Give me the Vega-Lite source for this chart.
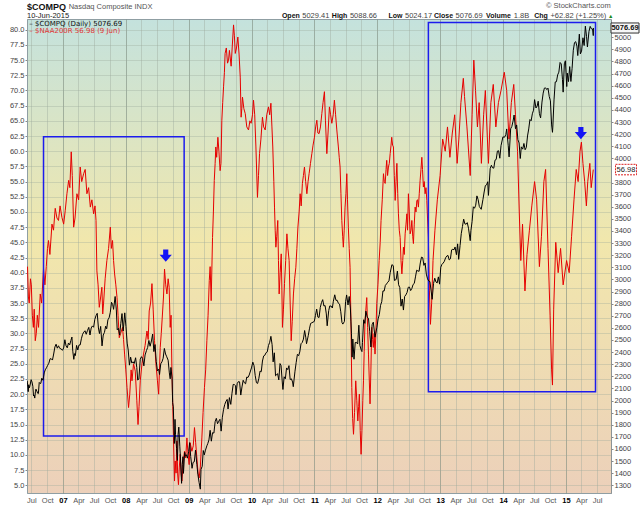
{
"$schema":"https://vega.github.io/schema/vega-lite/v6.json",
"width":584,"height":474,
"autosize":{"type":"none"},
"padding":{"left":27,"top":19,"right":29,"bottom":12},
"background":"white",
"view":{"fill":{"gradient":"linear","x1":0,"y1":0,"x2":0,"y2":1,"stops":[{"offset":0,"color":"#c4e2dd"},{"offset":0.47,"color":"#f1e7ac"},{"offset":1,"color":"#ecd0ba"}]},"stroke":"#8f9ea3"},
"config":{"font":"Liberation Sans","axis":{"labelFont":"Liberation Sans","labelFontSize":7.5,"labelColor":"#444"}},
"datasets":{
"red":[
{"d":"2006-06-09","v":41},{"d":"2006-06-14","v":36},{"d":"2006-06-19","v":35},{"d":"2006-06-26","v":39},{"d":"2006-07-01","v":38},{"d":"2006-07-07","v":33},{"d":"2006-07-13","v":31},{"d":"2006-07-18","v":34},{"d":"2006-07-24","v":28.8},{"d":"2006-07-30","v":30},{"d":"2006-08-05","v":33},{"d":"2006-08-12","v":31},{"d":"2006-08-22","v":36.5},{"d":"2006-08-30","v":35},{"d":"2006-09-10","v":40.7},{"d":"2006-09-18","v":38},{"d":"2006-09-26","v":41},{"d":"2006-10-03","v":44},{"d":"2006-10-09","v":45.3},{"d":"2006-10-17","v":43},{"d":"2006-10-29","v":48},{"d":"2006-11-07","v":47},{"d":"2006-11-17","v":50.6},{"d":"2006-11-27","v":49},{"d":"2006-12-06","v":48.6},{"d":"2006-12-15","v":51},{"d":"2006-12-26","v":49.1},
{"d":"2007-01-05","v":48},{"d":"2007-01-14","v":50.2},{"d":"2007-01-24","v":53},{"d":"2007-02-03","v":55.2},{"d":"2007-02-10","v":54},{"d":"2007-02-18","v":59.9},{"d":"2007-02-24","v":56},{"d":"2007-03-04","v":47.5},{"d":"2007-03-12","v":49},{"d":"2007-03-23","v":53},{"d":"2007-04-02","v":52},{"d":"2007-04-11","v":57.4},{"d":"2007-04-20","v":55},{"d":"2007-05-01","v":56.3},{"d":"2007-05-10","v":57},{"d":"2007-05-20","v":53},{"d":"2007-05-30","v":54},{"d":"2007-06-09","v":50.8},{"d":"2007-06-18","v":52},{"d":"2007-06-28","v":49.7},{"d":"2007-07-06","v":51},{"d":"2007-07-12","v":48.6},{"d":"2007-07-17","v":40.3},{"d":"2007-07-24","v":38},{"d":"2007-07-31","v":34.3},{"d":"2007-08-08","v":36},{"d":"2007-08-15","v":37.6},{"d":"2007-08-20","v":33.2},{"d":"2007-08-25","v":35},{"d":"2007-09-03","v":39},{"d":"2007-09-13","v":42},{"d":"2007-09-23","v":44},{"d":"2007-10-03","v":47.5},{"d":"2007-10-09","v":44},{"d":"2007-10-16","v":45.3},{"d":"2007-10-22","v":42},{"d":"2007-10-28","v":39.8},{"d":"2007-11-04","v":38},{"d":"2007-11-11","v":35.9},{"d":"2007-11-17","v":33},{"d":"2007-11-24","v":29.3},{"d":"2007-12-02","v":30},{"d":"2007-12-13","v":31},{"d":"2007-12-19","v":29},{"d":"2007-12-25","v":26.6},
{"d":"2008-01-01","v":24},{"d":"2008-01-08","v":21.1},{"d":"2008-01-17","v":17.8},{"d":"2008-01-24","v":20},{"d":"2008-02-01","v":24},{"d":"2008-02-06","v":22.2},{"d":"2008-02-15","v":25},{"d":"2008-02-25","v":23.8},{"d":"2008-03-05","v":19},{"d":"2008-03-12","v":15},{"d":"2008-03-18","v":18},{"d":"2008-03-25","v":22.2},{"d":"2008-04-04","v":25},{"d":"2008-04-13","v":26.6},{"d":"2008-04-22","v":28},{"d":"2008-05-03","v":30.4},{"d":"2008-05-10","v":29},{"d":"2008-05-16","v":33.7},{"d":"2008-05-24","v":35},{"d":"2008-06-01","v":38.2},{"d":"2008-06-08","v":34},{"d":"2008-06-16","v":28.8},{"d":"2008-06-24","v":25},{"d":"2008-07-03","v":22.2},{"d":"2008-07-10","v":20},{"d":"2008-07-19","v":27.7},{"d":"2008-07-25","v":30},{"d":"2008-08-01","v":33.2},{"d":"2008-08-07","v":36},{"d":"2008-08-13","v":40.6},{"d":"2008-08-20","v":38},{"d":"2008-08-27","v":36.5},{"d":"2008-09-03","v":39},{"d":"2008-09-09","v":37.6},{"d":"2008-09-15","v":31},{"d":"2008-09-20","v":33},{"d":"2008-09-25","v":23.8},{"d":"2008-09-30","v":18},{"d":"2008-10-04","v":12.8},{"d":"2008-10-10","v":5.7},{"d":"2008-10-14","v":9},{"d":"2008-10-19","v":7},{"d":"2008-10-24","v":12.3},{"d":"2008-10-28","v":7},{"d":"2008-11-02","v":5.1},{"d":"2008-11-07","v":8},{"d":"2008-11-12","v":10.1},{"d":"2008-11-17","v":7},{"d":"2008-11-22","v":5.7},{"d":"2008-11-30","v":9},{"d":"2008-12-07","v":10.6},{"d":"2008-12-14","v":9.5},{"d":"2008-12-21","v":12.8},{"d":"2008-12-28","v":10},
{"d":"2009-01-03","v":8.4},{"d":"2009-01-09","v":12},{"d":"2009-01-19","v":10.6},{"d":"2009-01-27","v":11.5},{"d":"2009-02-03","v":14.5},{"d":"2009-02-10","v":12},{"d":"2009-02-17","v":9.5},{"d":"2009-02-24","v":7},{"d":"2009-03-02","v":6.2},{"d":"2009-03-09","v":8},{"d":"2009-03-18","v":12.8},{"d":"2009-03-25","v":17},{"d":"2009-04-02","v":21.1},{"d":"2009-04-09","v":24},{"d":"2009-04-16","v":28.8},{"d":"2009-04-23","v":33},{"d":"2009-04-30","v":38.7},{"d":"2009-05-05","v":41},{"d":"2009-05-11","v":35.4},{"d":"2009-05-19","v":45.8},{"d":"2009-05-24","v":50},{"d":"2009-05-29","v":55.2},{"d":"2009-06-03","v":58},{"d":"2009-06-07","v":60.7},{"d":"2009-06-12","v":59},{"d":"2009-06-19","v":62.3},{"d":"2009-06-25","v":60},{"d":"2009-07-02","v":56.8},{"d":"2009-07-07","v":58},{"d":"2009-07-12","v":65.1},{"d":"2009-07-17","v":68},{"d":"2009-07-22","v":70.6},{"d":"2009-07-27","v":73},{"d":"2009-07-31","v":76.1},{"d":"2009-08-07","v":77},{"d":"2009-08-14","v":74.5},{"d":"2009-08-20","v":75},{"d":"2009-08-25","v":76.6},{"d":"2009-09-04","v":74},{"d":"2009-09-10","v":77},{"d":"2009-09-18","v":80.8},{"d":"2009-09-23","v":79},{"d":"2009-09-28","v":76.1},{"d":"2009-10-05","v":77},{"d":"2009-10-13","v":78.8},{"d":"2009-10-20","v":76},{"d":"2009-10-27","v":72.2},{"d":"2009-11-01","v":65.6},{"d":"2009-11-05","v":67},{"d":"2009-11-09","v":68.9},{"d":"2009-11-17","v":67},{"d":"2009-11-25","v":66.2},{"d":"2009-12-04","v":64},{"d":"2009-12-14","v":63.5},{"d":"2009-12-22","v":65},{"d":"2009-12-29","v":64.6},
{"d":"2010-01-06","v":66},{"d":"2010-01-12","v":68.4},{"d":"2010-01-19","v":66},{"d":"2010-01-26","v":60.7},{"d":"2010-02-04","v":52.4},{"d":"2010-02-10","v":56},{"d":"2010-02-16","v":59.6},{"d":"2010-02-24","v":62},{"d":"2010-03-05","v":65.6},{"d":"2010-03-12","v":64},{"d":"2010-03-21","v":63.5},{"d":"2010-03-30","v":66},{"d":"2010-04-09","v":67.3},{"d":"2010-04-16","v":66},{"d":"2010-04-23","v":67.9},{"d":"2010-04-29","v":64},{"d":"2010-05-04","v":60.7},{"d":"2010-05-10","v":55},{"d":"2010-05-14","v":50.8},{"d":"2010-05-18","v":47},{"d":"2010-05-22","v":44.2},{"d":"2010-05-27","v":46},{"d":"2010-06-02","v":48.6},{"d":"2010-06-06","v":42},{"d":"2010-06-10","v":36.5},{"d":"2010-06-16","v":40},{"d":"2010-06-22","v":43.1},{"d":"2010-06-26","v":37},{"d":"2010-06-29","v":31},{"d":"2010-07-05","v":34},{"d":"2010-07-11","v":38.2},{"d":"2010-07-18","v":42},{"d":"2010-07-25","v":46.4},{"d":"2010-07-31","v":44},{"d":"2010-08-07","v":42},{"d":"2010-08-13","v":35},{"d":"2010-08-19","v":28.8},{"d":"2010-08-25","v":32},{"d":"2010-09-01","v":36.5},{"d":"2010-09-08","v":39},{"d":"2010-09-15","v":40.9},{"d":"2010-09-21","v":44},{"d":"2010-09-27","v":47.5},{"d":"2010-10-04","v":50},{"d":"2010-10-10","v":53},{"d":"2010-10-16","v":51},{"d":"2010-10-23","v":54.7},{"d":"2010-10-29","v":56},{"d":"2010-11-04","v":57.4},{"d":"2010-11-11","v":55},{"d":"2010-11-18","v":53},{"d":"2010-11-25","v":55},{"d":"2010-12-01","v":56.3},{"d":"2010-12-09","v":58},{"d":"2010-12-17","v":59.6},{"d":"2010-12-24","v":61},
{"d":"2011-01-01","v":62.3},{"d":"2011-01-08","v":64},{"d":"2011-01-15","v":65.1},{"d":"2011-01-21","v":63},{"d":"2011-01-28","v":62.9},{"d":"2011-02-05","v":64},{"d":"2011-02-13","v":66.2},{"d":"2011-02-20","v":68},{"d":"2011-02-28","v":69.8},{"d":"2011-03-06","v":65},{"d":"2011-03-14","v":59.6},{"d":"2011-03-21","v":63},{"d":"2011-03-29","v":67.3},{"d":"2011-04-05","v":66},{"d":"2011-04-12","v":64.6},{"d":"2011-04-20","v":66},{"d":"2011-04-27","v":68.4},{"d":"2011-05-04","v":66},{"d":"2011-05-11","v":63.5},{"d":"2011-05-20","v":60.7},{"d":"2011-05-25","v":59},{"d":"2011-05-30","v":57.4},{"d":"2011-06-04","v":53},{"d":"2011-06-09","v":48.6},{"d":"2011-06-14","v":46},{"d":"2011-06-18","v":44.2},{"d":"2011-06-23","v":47},{"d":"2011-06-28","v":50.8},{"d":"2011-07-03","v":53},{"d":"2011-07-08","v":56.3},{"d":"2011-07-12","v":52},{"d":"2011-07-17","v":47.5},{"d":"2011-07-22","v":44},{"d":"2011-07-27","v":40.9},{"d":"2011-08-01","v":32},{"d":"2011-08-06","v":21.1},{"d":"2011-08-11","v":16},{"d":"2011-08-16","v":13.4},{"d":"2011-08-22","v":17},{"d":"2011-08-29","v":22.2},{"d":"2011-09-04","v":19},{"d":"2011-09-10","v":15.6},{"d":"2011-09-15","v":18},{"d":"2011-09-19","v":20},{"d":"2011-09-24","v":14},{"d":"2011-09-29","v":10.1},{"d":"2011-10-04","v":14},{"d":"2011-10-09","v":19},{"d":"2011-10-13","v":22.2},{"d":"2011-10-17","v":27},{"d":"2011-10-22","v":32.1},{"d":"2011-11-01","v":35.9},{"d":"2011-11-06","v":31},{"d":"2011-11-11","v":26.6},{"d":"2011-11-16","v":22},{"d":"2011-11-20","v":18.4},{"d":"2011-11-25","v":24},{"d":"2011-11-30","v":31},{"d":"2011-12-05","v":29},{"d":"2011-12-09","v":27.7},{"d":"2011-12-14","v":30},{"d":"2011-12-19","v":26.6},{"d":"2011-12-24","v":30},{"d":"2011-12-29","v":34.9},
{"d":"2012-01-05","v":38},{"d":"2012-01-12","v":42},{"d":"2012-01-18","v":45},{"d":"2012-01-23","v":48.6},{"d":"2012-01-30","v":52},{"d":"2012-02-06","v":56.3},{"d":"2012-02-11","v":55},{"d":"2012-02-16","v":54.7},{"d":"2012-02-21","v":57},{"d":"2012-02-25","v":58.5},{"d":"2012-03-01","v":56},{"d":"2012-03-06","v":57.4},{"d":"2012-03-11","v":58},{"d":"2012-03-16","v":59.6},{"d":"2012-03-21","v":61},{"d":"2012-03-25","v":62.3},{"d":"2012-03-30","v":61},{"d":"2012-04-04","v":60.7},{"d":"2012-04-09","v":56},{"d":"2012-04-14","v":51.9},{"d":"2012-04-19","v":55},{"d":"2012-04-24","v":58},{"d":"2012-04-29","v":53},{"d":"2012-05-03","v":49.7},{"d":"2012-05-08","v":47},{"d":"2012-05-13","v":45.8},{"d":"2012-05-18","v":42},{"d":"2012-05-23","v":39.8},{"d":"2012-05-28","v":42},{"d":"2012-06-01","v":44.2},{"d":"2012-06-06","v":43},{"d":"2012-06-11","v":46.4},{"d":"2012-06-16","v":48},{"d":"2012-06-21","v":49.7},{"d":"2012-06-25","v":47},{"d":"2012-06-30","v":53},{"d":"2012-07-05","v":50},{"d":"2012-07-10","v":46.4},{"d":"2012-07-15","v":47},{"d":"2012-07-20","v":48.6},{"d":"2012-07-25","v":46},{"d":"2012-07-29","v":44.8},{"d":"2012-08-03","v":48},{"d":"2012-08-08","v":50.8},{"d":"2012-08-13","v":50},{"d":"2012-08-18","v":51.9},{"d":"2012-08-22","v":52},{"d":"2012-08-27","v":50.8},{"d":"2012-09-01","v":53},{"d":"2012-09-06","v":55.2},{"d":"2012-09-11","v":57},{"d":"2012-09-16","v":59},{"d":"2012-09-20","v":57},{"d":"2012-09-25","v":54.1},{"d":"2012-09-30","v":55},{"d":"2012-10-05","v":53},{"d":"2012-10-10","v":54},{"d":"2012-10-15","v":51.9},{"d":"2012-10-19","v":49},{"d":"2012-10-24","v":45.8},{"d":"2012-10-30","v":37},{"d":"2012-11-05","v":31.5},{"d":"2012-11-12","v":35},{"d":"2012-11-20","v":42},{"d":"2012-12-01","v":47},{"d":"2012-12-15","v":52},{"d":"2012-12-31","v":56},
{"d":"2013-01-15","v":62},{"d":"2013-01-30","v":60},{"d":"2013-02-12","v":64},{"d":"2013-02-26","v":59},{"d":"2013-03-12","v":63},{"d":"2013-03-26","v":66},{"d":"2013-04-09","v":58},{"d":"2013-04-19","v":62},{"d":"2013-05-01","v":68},{"d":"2013-05-15","v":72},{"d":"2013-05-22","v":69},{"d":"2013-06-05","v":64},{"d":"2013-06-24","v":56},{"d":"2013-07-05","v":66},{"d":"2013-07-15","v":75},{"d":"2013-07-25","v":70},{"d":"2013-08-05","v":64},{"d":"2013-08-15","v":68},{"d":"2013-08-28","v":58},{"d":"2013-09-10","v":66},{"d":"2013-09-20","v":70},{"d":"2013-10-08","v":58},{"d":"2013-10-22","v":68},{"d":"2013-11-05","v":71},{"d":"2013-11-20","v":64},{"d":"2013-12-05","v":68},{"d":"2013-12-20","v":70},
{"d":"2014-01-08","v":73},{"d":"2014-01-22","v":70},{"d":"2014-02-04","v":62},{"d":"2014-02-18","v":68},{"d":"2014-03-04","v":71},{"d":"2014-03-14","v":66},{"d":"2014-03-26","v":60},{"d":"2014-04-05","v":50},{"d":"2014-04-14","v":42},{"d":"2014-04-24","v":48},{"d":"2014-05-08","v":37},{"d":"2014-05-20","v":43},{"d":"2014-06-03","v":47},{"d":"2014-06-17","v":51},{"d":"2014-07-03","v":55},{"d":"2014-07-15","v":52},{"d":"2014-07-31","v":41},{"d":"2014-08-12","v":46},{"d":"2014-08-26","v":55},{"d":"2014-09-05","v":57},{"d":"2014-09-19","v":44},{"d":"2014-10-01","v":33},{"d":"2014-10-10","v":24},{"d":"2014-10-15","v":21.5},{"d":"2014-10-22","v":34},{"d":"2014-11-03","v":45},{"d":"2014-11-17","v":40},{"d":"2014-12-01","v":44},{"d":"2014-12-16","v":38},
{"d":"2015-01-05","v":42},{"d":"2015-01-20","v":40},{"d":"2015-02-03","v":46},{"d":"2015-02-17","v":52},{"d":"2015-03-02","v":57},{"d":"2015-03-13","v":55},{"d":"2015-03-24","v":60},{"d":"2015-04-01","v":61.5},{"d":"2015-04-10","v":58},{"d":"2015-04-20","v":55},{"d":"2015-04-30","v":51},{"d":"2015-05-08","v":55},{"d":"2015-05-20","v":58},{"d":"2015-05-28","v":54},{"d":"2015-06-09","v":56.98}
],
"black":[
{"d":"2006-06-07","n":2162},{"d":"2006-06-09","n":2135},{"d":"2006-06-13","n":2073},{"d":"2006-06-16","n":2130},{"d":"2006-06-20","n":2105},{"d":"2006-06-23","n":2121},{"d":"2006-06-30","n":2172},{"d":"2006-07-05","n":2153},{"d":"2006-07-10","n":2117},{"d":"2006-07-14","n":2037},{"d":"2006-07-18","n":2044},{"d":"2006-07-21","n":2020},{"d":"2006-07-25","n":2072},{"d":"2006-07-28","n":2094},{"d":"2006-08-02","n":2078},{"d":"2006-08-07","n":2060},{"d":"2006-08-11","n":2057},{"d":"2006-08-16","n":2149},{"d":"2006-08-21","n":2141},{"d":"2006-08-25","n":2141},{"d":"2006-08-31","n":2184},{"d":"2006-09-07","n":2167},{"d":"2006-09-14","n":2228},{"d":"2006-09-20","n":2253},{"d":"2006-09-27","n":2270},{"d":"2006-10-04","n":2290},{"d":"2006-10-11","n":2308},{"d":"2006-10-18","n":2345},{"d":"2006-10-25","n":2344},{"d":"2006-11-01","n":2334},{"d":"2006-11-08","n":2384},{"d":"2006-11-15","n":2442},{"d":"2006-11-22","n":2465},{"d":"2006-11-29","n":2432},{"d":"2006-12-06","n":2452},{"d":"2006-12-13","n":2431},{"d":"2006-12-20","n":2427},{"d":"2006-12-29","n":2415},
{"d":"2007-01-05","n":2434},{"d":"2007-01-12","n":2502},{"d":"2007-01-19","n":2451},{"d":"2007-01-26","n":2435},{"d":"2007-02-02","n":2475},{"d":"2007-02-09","n":2459},{"d":"2007-02-16","n":2496},{"d":"2007-02-22","n":2524},{"d":"2007-02-27","n":2407},{"d":"2007-03-05","n":2340},{"d":"2007-03-09","n":2387},{"d":"2007-03-14","n":2371},{"d":"2007-03-21","n":2455},{"d":"2007-03-28","n":2417},{"d":"2007-04-04","n":2458},{"d":"2007-04-11","n":2459},{"d":"2007-04-18","n":2510},{"d":"2007-04-25","n":2547},{"d":"2007-05-02","n":2565},{"d":"2007-05-09","n":2576},{"d":"2007-05-16","n":2547},{"d":"2007-05-23","n":2577},{"d":"2007-05-31","n":2604},{"d":"2007-06-07","n":2541},{"d":"2007-06-14","n":2599},{"d":"2007-06-21","n":2616},{"d":"2007-06-28","n":2605},{"d":"2007-07-05","n":2670},{"d":"2007-07-12","n":2701},{"d":"2007-07-19","n":2720},{"d":"2007-07-26","n":2599},{"d":"2007-08-01","n":2553},{"d":"2007-08-08","n":2612},{"d":"2007-08-16","n":2451},{"d":"2007-08-23","n":2541},{"d":"2007-08-30","n":2563},{"d":"2007-09-06","n":2614},{"d":"2007-09-12","n":2592},{"d":"2007-09-19","n":2666},{"d":"2007-09-26","n":2683},{"d":"2007-10-03","n":2729},{"d":"2007-10-10","n":2811},{"d":"2007-10-17","n":2792},{"d":"2007-10-22","n":2753},{"d":"2007-10-31","n":2859},{"d":"2007-11-07","n":2748},{"d":"2007-11-12","n":2584},{"d":"2007-11-19","n":2596},{"d":"2007-11-26","n":2540},{"d":"2007-12-03","n":2637},{"d":"2007-12-10","n":2718},{"d":"2007-12-17","n":2574},{"d":"2007-12-26","n":2724},
{"d":"2008-01-02","n":2610},{"d":"2008-01-09","n":2474},{"d":"2008-01-15","n":2417},{"d":"2008-01-22","n":2292},{"d":"2008-01-29","n":2358},{"d":"2008-02-05","n":2309},{"d":"2008-02-12","n":2320},{"d":"2008-02-19","n":2306},{"d":"2008-02-27","n":2353},{"d":"2008-03-05","n":2272},{"d":"2008-03-10","n":2169},{"d":"2008-03-17","n":2177},{"d":"2008-03-25","n":2341},{"d":"2008-04-01","n":2362},{"d":"2008-04-08","n":2347},{"d":"2008-04-15","n":2286},{"d":"2008-04-22","n":2376},{"d":"2008-04-30","n":2412},{"d":"2008-05-07","n":2438},{"d":"2008-05-14","n":2496},{"d":"2008-05-21","n":2448},{"d":"2008-05-29","n":2492},{"d":"2008-06-05","n":2549},{"d":"2008-06-12","n":2404},{"d":"2008-06-19","n":2462},{"d":"2008-06-26","n":2321},{"d":"2008-07-03","n":2245},{"d":"2008-07-10","n":2258},{"d":"2008-07-15","n":2215},{"d":"2008-07-22","n":2303},{"d":"2008-07-29","n":2319},{"d":"2008-08-05","n":2349},{"d":"2008-08-12","n":2430},{"d":"2008-08-19","n":2384},{"d":"2008-08-26","n":2361},{"d":"2008-09-03","n":2333},{"d":"2008-09-10","n":2228},{"d":"2008-09-15","n":2179},{"d":"2008-09-19","n":2273},{"d":"2008-09-26","n":2183},{"d":"2008-09-29","n":1983},{"d":"2008-10-03","n":1947},{"d":"2008-10-09","n":1645},{"d":"2008-10-13","n":1844},{"d":"2008-10-16","n":1717},{"d":"2008-10-22","n":1604},{"d":"2008-10-27","n":1505},{"d":"2008-10-31","n":1721},{"d":"2008-11-04","n":1780},{"d":"2008-11-10","n":1617},{"d":"2008-11-14","n":1517},{"d":"2008-11-20","n":1316},{"d":"2008-11-24","n":1472},{"d":"2008-11-28","n":1536},{"d":"2008-12-01","n":1398},{"d":"2008-12-08","n":1572},{"d":"2008-12-12","n":1540},{"d":"2008-12-18","n":1552},{"d":"2008-12-24","n":1524},{"d":"2008-12-31","n":1577},
{"d":"2009-01-06","n":1652},{"d":"2009-01-12","n":1538},{"d":"2009-01-20","n":1440},{"d":"2009-01-26","n":1489},{"d":"2009-02-02","n":1494},{"d":"2009-02-09","n":1591},{"d":"2009-02-17","n":1470},{"d":"2009-02-23","n":1387},{"d":"2009-03-02","n":1322},{"d":"2009-03-09","n":1268},{"d":"2009-03-13","n":1431},{"d":"2009-03-20","n":1457},{"d":"2009-03-26","n":1587},{"d":"2009-04-01","n":1551},{"d":"2009-04-08","n":1590},{"d":"2009-04-16","n":1626},{"d":"2009-04-21","n":1643},{"d":"2009-04-28","n":1674},{"d":"2009-05-05","n":1754},{"d":"2009-05-12","n":1664},{"d":"2009-05-19","n":1734},{"d":"2009-05-27","n":1731},{"d":"2009-06-03","n":1825},{"d":"2009-06-10","n":1853},{"d":"2009-06-17","n":1808},{"d":"2009-06-24","n":1829},{"d":"2009-07-01","n":1845},{"d":"2009-07-08","n":1747},{"d":"2009-07-15","n":1862},{"d":"2009-07-22","n":1926},{"d":"2009-07-29","n":1967},{"d":"2009-08-05","n":1993},{"d":"2009-08-12","n":2009},{"d":"2009-08-17","n":1930},{"d":"2009-08-25","n":2024},{"d":"2009-09-02","n":1968},{"d":"2009-09-09","n":2060},{"d":"2009-09-16","n":2133},{"d":"2009-09-23","n":2131},{"d":"2009-09-30","n":2122},{"d":"2009-10-02","n":2048},{"d":"2009-10-09","n":2139},{"d":"2009-10-16","n":2156},{"d":"2009-10-23","n":2154},{"d":"2009-10-30","n":2045},{"d":"2009-11-06","n":2112},{"d":"2009-11-13","n":2167},{"d":"2009-11-20","n":2146},{"d":"2009-11-27","n":2138},{"d":"2009-12-04","n":2194},{"d":"2009-12-11","n":2190},{"d":"2009-12-18","n":2211},{"d":"2009-12-31","n":2269},
{"d":"2010-01-08","n":2317},{"d":"2010-01-15","n":2288},{"d":"2010-01-22","n":2205},{"d":"2010-01-29","n":2147},{"d":"2010-02-05","n":2141},{"d":"2010-02-12","n":2183},{"d":"2010-02-19","n":2243},{"d":"2010-02-26","n":2238},{"d":"2010-03-05","n":2326},{"d":"2010-03-12","n":2368},{"d":"2010-03-19","n":2374},{"d":"2010-03-26","n":2395},{"d":"2010-04-02","n":2402},{"d":"2010-04-09","n":2454},{"d":"2010-04-16","n":2481},{"d":"2010-04-23","n":2530},{"d":"2010-04-30","n":2461},{"d":"2010-05-06","n":2319},{"d":"2010-05-13","n":2394},{"d":"2010-05-20","n":2204},{"d":"2010-05-25","n":2210},{"d":"2010-06-01","n":2222},{"d":"2010-06-08","n":2170},{"d":"2010-06-15","n":2305},{"d":"2010-06-21","n":2289},{"d":"2010-06-29","n":2136},{"d":"2010-07-02","n":2091},{"d":"2010-07-09","n":2196},{"d":"2010-07-16","n":2179},{"d":"2010-07-23","n":2269},{"d":"2010-07-30","n":2255},{"d":"2010-08-06","n":2288},{"d":"2010-08-13","n":2173},{"d":"2010-08-20","n":2179},{"d":"2010-08-27","n":2153},{"d":"2010-08-31","n":2114},{"d":"2010-09-10","n":2242},{"d":"2010-09-17","n":2315},{"d":"2010-09-24","n":2381},{"d":"2010-10-01","n":2370},{"d":"2010-10-08","n":2402},{"d":"2010-10-15","n":2469},{"d":"2010-10-22","n":2479},{"d":"2010-10-29","n":2507},{"d":"2010-11-05","n":2578},{"d":"2010-11-12","n":2518},{"d":"2010-11-16","n":2469},{"d":"2010-11-26","n":2535},{"d":"2010-12-03","n":2592},{"d":"2010-12-10","n":2637},{"d":"2010-12-17","n":2642},{"d":"2010-12-31","n":2653},
{"d":"2011-01-07","n":2703},{"d":"2011-01-14","n":2755},{"d":"2011-01-21","n":2689},{"d":"2011-01-28","n":2686},{"d":"2011-02-04","n":2769},{"d":"2011-02-11","n":2809},{"d":"2011-02-18","n":2833},{"d":"2011-02-25","n":2781},{"d":"2011-03-04","n":2784},{"d":"2011-03-11","n":2715},{"d":"2011-03-16","n":2617},{"d":"2011-03-25","n":2743},{"d":"2011-03-31","n":2781},{"d":"2011-04-08","n":2780},{"d":"2011-04-15","n":2764},{"d":"2011-04-21","n":2820},{"d":"2011-04-29","n":2873},{"d":"2011-05-06","n":2827},{"d":"2011-05-13","n":2828},{"d":"2011-05-20","n":2803},{"d":"2011-05-27","n":2796},{"d":"2011-06-03","n":2733},{"d":"2011-06-10","n":2644},{"d":"2011-06-15","n":2631},{"d":"2011-06-24","n":2652},{"d":"2011-07-01","n":2816},{"d":"2011-07-07","n":2872},{"d":"2011-07-15","n":2789},{"d":"2011-07-22","n":2859},{"d":"2011-07-29","n":2756},{"d":"2011-08-04","n":2556},{"d":"2011-08-08","n":2358},{"d":"2011-08-12","n":2508},{"d":"2011-08-19","n":2341},{"d":"2011-08-26","n":2479},{"d":"2011-09-02","n":2480},{"d":"2011-09-09","n":2467},{"d":"2011-09-16","n":2622},{"d":"2011-09-22","n":2455},{"d":"2011-09-30","n":2415},{"d":"2011-10-04","n":2404},{"d":"2011-10-07","n":2479},{"d":"2011-10-14","n":2667},{"d":"2011-10-21","n":2637},{"d":"2011-10-27","n":2738},{"d":"2011-11-04","n":2686},{"d":"2011-11-11","n":2679},{"d":"2011-11-18","n":2572},{"d":"2011-11-25","n":2442},{"d":"2011-12-02","n":2626},{"d":"2011-12-09","n":2647},{"d":"2011-12-19","n":2523},{"d":"2011-12-30","n":2605},
{"d":"2012-01-06","n":2674},{"d":"2012-01-13","n":2710},{"d":"2012-01-20","n":2786},{"d":"2012-01-27","n":2816},{"d":"2012-02-03","n":2905},{"d":"2012-02-10","n":2904},{"d":"2012-02-17","n":2951},{"d":"2012-02-24","n":2963},{"d":"2012-03-02","n":2977},{"d":"2012-03-09","n":2988},{"d":"2012-03-16","n":3055},{"d":"2012-03-26","n":3122},{"d":"2012-04-03","n":3114},{"d":"2012-04-10","n":2991},{"d":"2012-04-20","n":3000},{"d":"2012-04-27","n":3069},{"d":"2012-05-04","n":2956},{"d":"2012-05-11","n":2933},{"d":"2012-05-18","n":2779},{"d":"2012-05-25","n":2838},{"d":"2012-06-01","n":2747},{"d":"2012-06-08","n":2859},{"d":"2012-06-15","n":2872},{"d":"2012-06-22","n":2892},{"d":"2012-06-29","n":2935},{"d":"2012-07-06","n":2937},{"d":"2012-07-13","n":2908},{"d":"2012-07-20","n":2925},{"d":"2012-07-27","n":2958},{"d":"2012-08-03","n":2967},{"d":"2012-08-10","n":3021},{"d":"2012-08-17","n":3076},{"d":"2012-08-24","n":3070},{"d":"2012-08-31","n":3067},{"d":"2012-09-07","n":3136},{"d":"2012-09-14","n":3184},{"d":"2012-09-21","n":3180},{"d":"2012-09-28","n":3116},{"d":"2012-10-05","n":3136},{"d":"2012-10-12","n":3044},{"d":"2012-10-19","n":3005},{"d":"2012-10-26","n":2987},{"d":"2012-11-02","n":2982},{"d":"2012-11-09","n":2904},{"d":"2012-11-15","n":2836},{"d":"2012-11-23","n":2967},{"d":"2012-11-30","n":3010},{"d":"2012-12-07","n":2979},{"d":"2012-12-14","n":2971},{"d":"2012-12-21","n":3021},{"d":"2012-12-28","n":2961},
{"d":"2013-01-04","n":3101},{"d":"2013-01-11","n":3125},{"d":"2013-01-18","n":3135},{"d":"2013-01-25","n":3150},{"d":"2013-02-01","n":3179},{"d":"2013-02-08","n":3193},{"d":"2013-02-15","n":3198},{"d":"2013-02-22","n":3161},{"d":"2013-03-01","n":3170},{"d":"2013-03-08","n":3244},{"d":"2013-03-15","n":3249},{"d":"2013-03-22","n":3245},{"d":"2013-03-28","n":3268},{"d":"2013-04-05","n":3204},{"d":"2013-04-12","n":3294},{"d":"2013-04-18","n":3166},{"d":"2013-04-26","n":3279},{"d":"2013-05-03","n":3378},{"d":"2013-05-10","n":3437},{"d":"2013-05-17","n":3498},{"d":"2013-05-24","n":3459},{"d":"2013-05-31","n":3456},{"d":"2013-06-07","n":3469},{"d":"2013-06-14","n":3423},{"d":"2013-06-24","n":3320},{"d":"2013-06-28","n":3403},{"d":"2013-07-05","n":3479},{"d":"2013-07-12","n":3600},{"d":"2013-07-19","n":3588},{"d":"2013-07-26","n":3613},{"d":"2013-08-02","n":3690},{"d":"2013-08-09","n":3660},{"d":"2013-08-16","n":3602},{"d":"2013-08-27","n":3579},{"d":"2013-09-06","n":3660},{"d":"2013-09-13","n":3722},{"d":"2013-09-20","n":3775},{"d":"2013-09-27","n":3781},{"d":"2013-10-04","n":3807},{"d":"2013-10-08","n":3694},{"d":"2013-10-18","n":3915},{"d":"2013-10-25","n":3943},{"d":"2013-11-01","n":3922},{"d":"2013-11-08","n":3919},{"d":"2013-11-15","n":3985},{"d":"2013-11-22","n":3991},{"d":"2013-11-29","n":4060},{"d":"2013-12-06","n":4063},{"d":"2013-12-13","n":4001},{"d":"2013-12-20","n":4105},{"d":"2013-12-31","n":4177},
{"d":"2014-01-10","n":4175},{"d":"2014-01-17","n":4197},{"d":"2014-01-22","n":4243},{"d":"2014-01-31","n":4104},{"d":"2014-02-05","n":4012},{"d":"2014-02-14","n":4244},{"d":"2014-02-21","n":4264},{"d":"2014-02-28","n":4308},{"d":"2014-03-06","n":4358},{"d":"2014-03-14","n":4245},{"d":"2014-03-21","n":4276},{"d":"2014-03-28","n":4155},{"d":"2014-04-04","n":4127},{"d":"2014-04-11","n":3999},{"d":"2014-04-17","n":4095},{"d":"2014-04-25","n":4076},{"d":"2014-05-02","n":4123},{"d":"2014-05-09","n":4071},{"d":"2014-05-16","n":4090},{"d":"2014-05-23","n":4185},{"d":"2014-05-30","n":4243},{"d":"2014-06-06","n":4321},{"d":"2014-06-13","n":4310},{"d":"2014-06-20","n":4368},{"d":"2014-06-27","n":4398},{"d":"2014-07-03","n":4485},{"d":"2014-07-11","n":4416},{"d":"2014-07-18","n":4432},{"d":"2014-07-24","n":4472},{"d":"2014-07-31","n":4370},{"d":"2014-08-07","n":4334},{"d":"2014-08-15","n":4465},{"d":"2014-08-22","n":4539},{"d":"2014-08-29","n":4580},{"d":"2014-09-05","n":4582},{"d":"2014-09-12","n":4568},{"d":"2014-09-19","n":4580},{"d":"2014-09-26","n":4512},{"d":"2014-10-03","n":4475},{"d":"2014-10-10","n":4276},{"d":"2014-10-15","n":4215},{"d":"2014-10-17","n":4258},{"d":"2014-10-24","n":4483},{"d":"2014-10-31","n":4631},{"d":"2014-11-07","n":4633},{"d":"2014-11-14","n":4689},{"d":"2014-11-21","n":4712},{"d":"2014-11-28","n":4792},{"d":"2014-12-05","n":4780},{"d":"2014-12-12","n":4653},{"d":"2014-12-16","n":4547},{"d":"2014-12-23","n":4781},{"d":"2014-12-29","n":4806},
{"d":"2015-01-06","n":4593},{"d":"2015-01-09","n":4704},{"d":"2015-01-16","n":4634},{"d":"2015-01-23","n":4758},{"d":"2015-01-30","n":4635},{"d":"2015-02-06","n":4744},{"d":"2015-02-13","n":4893},{"d":"2015-02-20","n":4956},{"d":"2015-02-27","n":4964},{"d":"2015-03-06","n":4927},{"d":"2015-03-11","n":4849},{"d":"2015-03-20","n":5026},{"d":"2015-03-26","n":4863},{"d":"2015-04-02","n":4886},{"d":"2015-04-10","n":4996},{"d":"2015-04-17","n":4932},{"d":"2015-04-24","n":5092},{"d":"2015-05-01","n":5005},{"d":"2015-05-06","n":4920},{"d":"2015-05-15","n":5048},{"d":"2015-05-22","n":5090},{"d":"2015-05-29","n":5070},{"d":"2015-06-05","n":5068},{"d":"2015-06-09","n":5014},{"d":"2015-06-10","n":5076.69}
],
"boxes":[{"d":"2006-09-10","d2":"2008-12-05","v":62.4,"v2":13.1},{"d":"2012-10-24","d2":"2015-06-22","v":81.2,"v2":20.4}],
"arrows":[{"d":"2008-08-20","v":42.8},{"d":"2015-03-29","v":63.0}],
"notes":[
{"k":"title","d":"2006-06-06","v":83.8,"t":"$COMPQ"},
{"k":"sub","d":"2007-02-03","v":83.7,"t":"Nasdaq Composite  INDX"},
{"k":"date","d":"2006-06-06","v":82.3,"t":"10-Jun-2015"},
{"k":"lab","d":"2010-06-26","v":82.3,"t":"Open"},
{"k":"val","d":"2010-10-22","v":82.3,"t":"5029.41"},
{"k":"lab","d":"2011-04-12","v":82.3,"t":"High"},
{"k":"val","d":"2011-07-26","v":82.3,"t":"5088.66"},
{"k":"lab","d":"2012-03-06","v":82.3,"t":"Low"},
{"k":"val","d":"2012-06-10","v":82.3,"t":"5024.17"},
{"k":"lab","d":"2012-11-26","v":82.3,"t":"Close"},
{"k":"val","d":"2013-03-31","v":82.3,"t":"5076.69"},
{"k":"lab","d":"2013-09-24","v":82.3,"t":"Volume"},
{"k":"val","d":"2014-03-04","v":82.3,"t":"1.8B"},
{"k":"lab","d":"2014-07-01","v":82.3,"t":"Chg"},
{"k":"val","d":"2014-10-03","v":82.3,"t":"+62.82 (+1.25%)"},
{"k":"up","d":"2015-09-02","v":82.3,"t":"▲"},
{"k":"copy","d":"2015-09-18","v":83.87,"t":"© StockCharts.com"},
{"k":"leg1","d":"2006-06-19","v":81.0,"t":"– $COMPQ (Daily) 5076.69"},
{"k":"leg2","d":"2006-06-19","v":79.72,"t":"– $NAA200R 56.98 (9 Jun)"}
],
"lastRed":[{"d":"2015-09-20","v":56.98,"t":"56.98"}],
"lastBlack":[{"d":"2015-09-20","n":5076.69,"t":"5076.69"}]
},
"encoding":{
"x":{"field":"d","type":"temporal","title":null,
"scale":{"type":"utc","nice":false,"domain":[{"year":2006,"month":6,"date":6,"utc":true},{"year":2015,"month":9,"date":20,"utc":true}]},
"axis":{"tickCount":{"interval":"month","step":3},"labelExpr":"utcmonth(datum.value)===0 ? utcFormat(datum.value,'%y') : utcFormat(datum.value,'%b')","labelOverlap":false,"labelFlush":false,"labelPadding":3,"ticks":false,"domain":false,"grid":true,
"gridColor":{"condition":{"test":"utcmonth(datum.value)===0","value":"#7d8c7e"},"value":"#9aa89a"},
"gridOpacity":{"condition":{"test":"utcmonth(datum.value)===0","value":0.6},"value":0.4},
"labelFontWeight":{"condition":{"test":"utcmonth(datum.value)===0","value":"bold"},"value":"normal"},
"labelColor":{"condition":{"test":"utcmonth(datum.value)===0","value":"#000"},"value":"#555"}}}
},
"layer":[
{"encoding":{"y":{"field":"v","type":"quantitative","title":null,"scale":{"domain":[3.73,81.77],"nice":false,"zero":false},
"axis":{"orient":"left","values":[5,7.5,10,12.5,15,17.5,20,22.5,25,27.5,30,32.5,35,37.5,40,42.5,45,47.5,50,52.5,55,57.5,60,62.5,65,67.5,70,72.5,75,77.5,80],"format":".1f","tickSize":2,"labelPadding":1,"tickColor":"#888","domainColor":"#8f9ea3","grid":true,"gridColor":"#9aa89a","gridOpacity":0.35}}},
"layer":[
{"data":{"name":"red"},"mark":{"type":"line","color":"#e60000","strokeWidth":1,"clip":true}},
{"data":{"name":"boxes"},"mark":{"type":"rect","filled":false,"stroke":"#1c1ced","strokeWidth":1.5},"encoding":{"x2":{"field":"d2"},"y2":{"field":"v2"}}},
{"data":{"name":"arrows"},"mark":{"type":"point","shape":"M-0.42,-1 L0.42,-1 L0.42,-0.15 L1,-0.15 L0,1 L-1,-0.15 L-0.42,-0.15 Z","filled":true,"color":"#1515f5","opacity":1,"size":150}},
{"data":{"name":"notes"},"transform":[{"filter":"datum.k==='title'"}],"mark":{"type":"text","align":"left","baseline":"middle","fontSize":9,"fontWeight":"bold","color":"#111"},"encoding":{"text":{"field":"t"}}},
{"data":{"name":"notes"},"transform":[{"filter":"datum.k==='sub'"}],"mark":{"type":"text","align":"left","baseline":"middle","fontSize":7.5,"color":"#555"},"encoding":{"text":{"field":"t"}}},
{"data":{"name":"notes"},"transform":[{"filter":"datum.k==='date'"}],"mark":{"type":"text","align":"left","baseline":"middle","fontSize":7.5,"color":"#222"},"encoding":{"text":{"field":"t"}}},
{"data":{"name":"notes"},"transform":[{"filter":"datum.k==='val'"}],"mark":{"type":"text","align":"left","baseline":"middle","fontSize":7.5,"color":"#444"},"encoding":{"text":{"field":"t"}}},
{"data":{"name":"notes"},"transform":[{"filter":"datum.k==='lab'"}],"mark":{"type":"text","align":"left","baseline":"middle","fontSize":7,"fontWeight":"bold","color":"#111"},"encoding":{"text":{"field":"t"}}},
{"data":{"name":"notes"},"transform":[{"filter":"datum.k==='up'"}],"mark":{"type":"text","align":"left","baseline":"middle","fontSize":5.5,"color":"#1a8a1a"},"encoding":{"text":{"field":"t"}}},
{"data":{"name":"notes"},"transform":[{"filter":"datum.k==='copy'"}],"mark":{"type":"text","align":"right","baseline":"middle","fontSize":7.5,"color":"#555"},"encoding":{"text":{"field":"t"}}},
{"data":{"name":"notes"},"transform":[{"filter":"datum.k==='leg1'"}],"mark":{"type":"text","align":"left","baseline":"middle","font":"DejaVu Sans","fontSize":7,"color":"#111"},"encoding":{"text":{"field":"t"}}},
{"data":{"name":"notes"},"transform":[{"filter":"datum.k==='leg2'"}],"mark":{"type":"text","align":"left","baseline":"middle","font":"DejaVu Sans","fontSize":7,"color":"#e03535"},"encoding":{"text":{"field":"t"}}},
{"data":{"name":"lastRed"},"mark":{"type":"point","shape":"M-1,-0.5 L1,-0.5 L1,0.5 L-1,0.5 Z","size":441,"filled":true,"fill":"#ffffff","stroke":"#d22","strokeWidth":1,"strokeDash":[2,1],"opacity":1,"xOffset":15}},
{"data":{"name":"lastRed"},"mark":{"type":"text","align":"center","baseline":"middle","fontSize":7.5,"color":"#222","xOffset":15},"encoding":{"text":{"field":"t"}}}
]},
{"encoding":{"y":{"field":"n","type":"quantitative","title":null,"scale":{"domain":[1236,5151],"nice":false,"zero":false},
"axis":{"orient":"right","values":[1300,1400,1500,1600,1700,1800,1900,2000,2100,2200,2300,2400,2500,2600,2700,2800,2900,3000,3100,3200,3300,3400,3500,3600,3700,3800,4000,4100,4200,4300,4400,4500,4600,4700,4800,4900,5000],"format":"d","tickSize":2,"labelPadding":1,"tickColor":"#888","domainColor":"#888","domainDash":[1,1],"grid":false}}},
"layer":[
{"data":{"name":"black"},"mark":{"type":"line","color":"#000000","strokeWidth":1,"clip":true}},
{"data":{"name":"lastBlack"},"mark":{"type":"point","shape":"M-1,-0.36 L1,-0.36 L1,0.36 L-1,0.36 Z","size":784,"filled":true,"fill":"#f6f6f6","stroke":"#333","strokeWidth":1,"opacity":1,"xOffset":14}},
{"data":{"name":"lastBlack"},"mark":{"type":"text","align":"center","baseline":"middle","fontSize":7.5,"fontWeight":"bold","color":"#111","xOffset":14},"encoding":{"text":{"field":"t"}}}
]}
],
"resolve":{"scale":{"y":"independent"}}
}
